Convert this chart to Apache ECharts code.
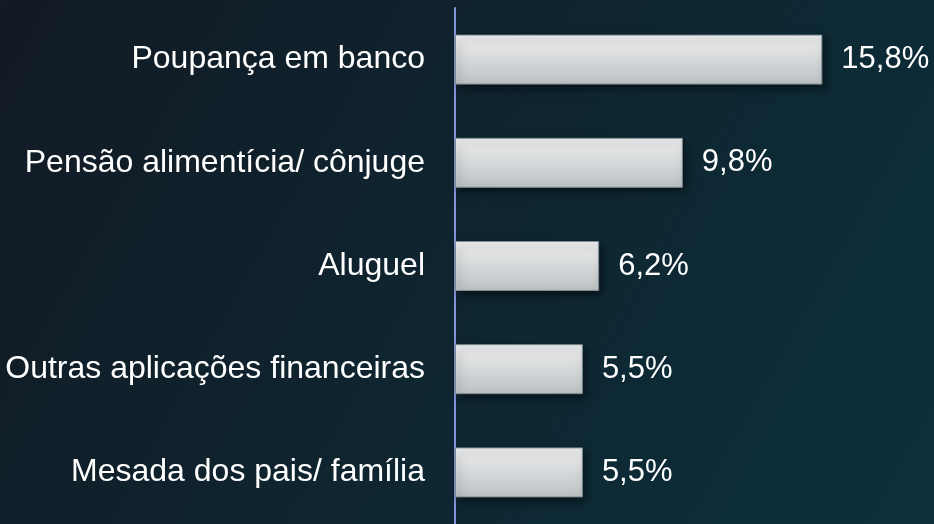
<!DOCTYPE html>
<html>
<head>
<meta charset="utf-8">
<script src="https://cdn.jsdelivr.net/npm/echarts@6/dist/echarts.min.js"></script>
<style>
html,body{margin:0;padding:0;background:#0f2430;}
#c{width:934px;height:524px;}
</style>
</head>
<body>
<div id="c"></div>
<script>
const categories = ["Poupança em banco", "Pensão alimentícia/ cônjuge", "Aluguel", "Outras aplicações financeiras", "Mesada dos pais/ família"];
const values = [15.8, 9.8, 6.2, 5.5, 5.5];

const chart = echarts.init(document.getElementById('c'), null, {renderer: 'canvas'});
const font = '"Liberation Sans", Arial, sans-serif';
chart.setOption({
  animation: false,
  backgroundColor: {
    type: 'linear', x: 0, y: 0, x2: 1, y2: 1,
    colorStops: [
      {offset: 0, color: '#121a24'},
      {offset: 1, color: '#0b303c'}
    ]
  },
  grid: {left: 455, right: 14, top: 8, bottom: 0, containLabel: false},
  xAxis: {
    type: 'value', min: 0, max: 20, show: false
  },
  yAxis: {
    type: 'category', data: categories, inverse: true,
    axisLine: {show: true, lineStyle: {color: '#8494dc', width: 2}},
    axisTick: {show: false},
    splitLine: {show: false},
    axisLabel: {color: '#ffffff', fontSize: 32, fontFamily: font, margin: 30}
  },
  series: [{
    type: 'bar',
    data: values,
    barWidth: 50,
    itemStyle: {
      color: {
        type: 'linear', x: 0, y: 0, x2: 0, y2: 1,
        colorStops: [
          {offset: 0, color: '#eeeff0'},
          {offset: 1, color: '#bdc1c4'}
        ]
      },
      borderColor: '#7d8b92',
      borderWidth: 1,
      shadowColor: 'rgba(0,0,0,0.5)',
      shadowBlur: 8,
      shadowOffsetX: 3,
      shadowOffsetY: 4
    },
    label: {
      show: true, position: 'right', distance: 19,
      color: '#ffffff', fontSize: 31, fontFamily: font,
      formatter: p => p.value.toFixed(1).replace('.', ',') + '%'
    }
  }]
});
</script>
</body>
</html>
